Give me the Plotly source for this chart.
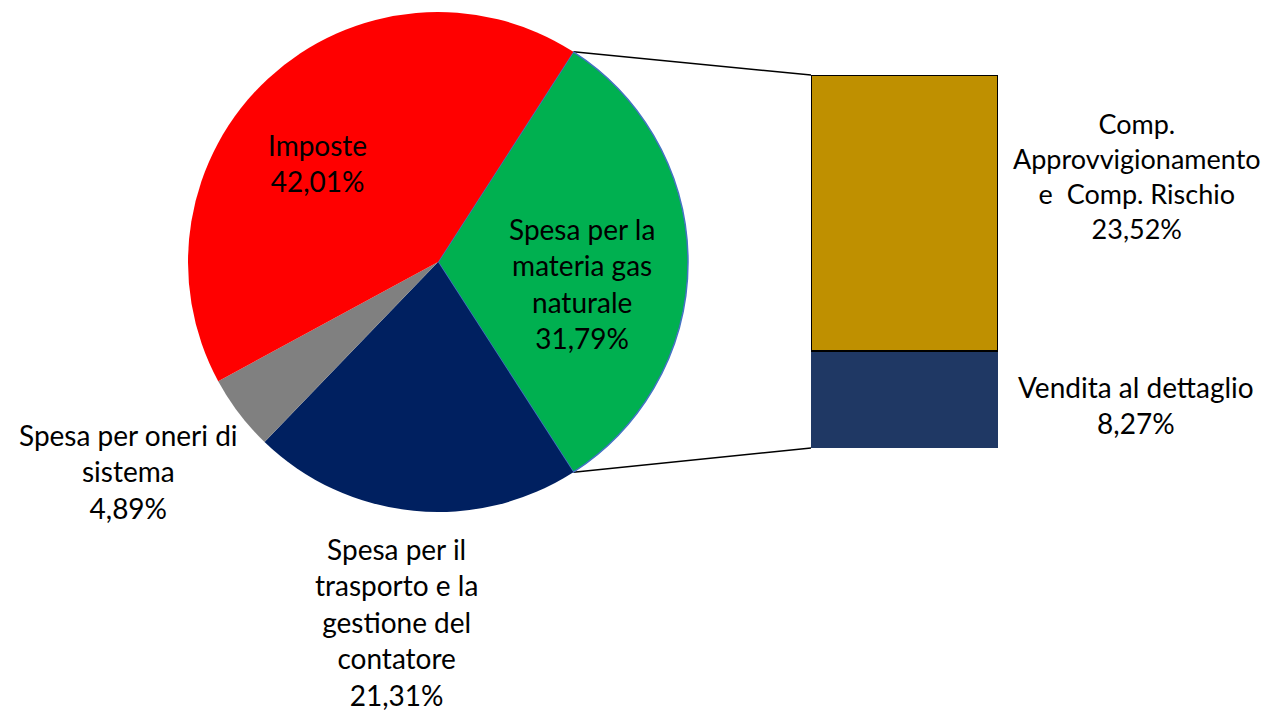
import math
import plotly.graph_objects as go

# ---- data ----
pie_labels = ["Spesa per la materia gas naturale",
              "Spesa per il trasporto e la gestione del contatore",
              "Spesa per oneri di sistema",
              "Imposte"]
pie_values = [31.79, 21.31, 4.89, 42.01]
pie_colors = ["#00B050", "#002060", "#808080", "#FF0000"]

bar_labels = ["Vendita al dettaglio", "Comp. Approvvigionamento e Comp. Rischio"]
bar_values = [8.27, 23.52]
bar_colors = ["#1F3864", "#BF9000"]

W, H = 1269, 714
FONT = "Lato"
FS = 28
def pct(v):
    return f"{v:.2f}".replace(".", ",") + "%"

# layout geometry (pixels)
cx, cy, R = 438, 262, 250
bar_l, bar_r, bar_top, bar_bot = 811, 998, 75, 448

def px2paper(x, y):
    return x / W, 1 - y / H

half = pie_values[0] / sum(pie_values) * 360 / 2  # half angle of the exploded slice
rotation = 90 - half

fig = go.Figure()
fig.add_trace(go.Pie(
    labels=pie_labels, values=pie_values, sort=False, direction="clockwise",
    rotation=rotation, textinfo="none", hoverinfo="label+percent",
    marker=dict(colors=pie_colors,
                line=dict(color=["#4472C4", "rgba(0,0,0,0)", "rgba(0,0,0,0)", "rgba(0,0,0,0)"],
                          width=[1.5, 0, 0, 0])),
    domain=dict(x=[(cx - R) / W, (cx + R) / W], y=[1 - (cy + R) / H, 1 - (cy - R) / H]),
    showlegend=False,
))

for lab, v, c, lw in zip(bar_labels, bar_values, bar_colors, [0, 1.5]):
    fig.add_trace(go.Bar(
        x=[0], y=[v], width=[1], name=lab, showlegend=False,
        marker=dict(color=c, line=dict(color="black", width=lw)),
        xaxis="x", yaxis="y",
    ))

fig.update_layout(
    width=W, height=H, barmode="stack",
    margin=dict(l=0, r=0, t=0, b=0),
    paper_bgcolor="white", plot_bgcolor="white",
    xaxis=dict(domain=[bar_l / W, bar_r / W], range=[-0.5, 0.5], visible=False),
    yaxis=dict(domain=[1 - bar_bot / H, 1 - bar_top / H], range=[0, sum(bar_values)], visible=False),
    font=dict(family=FONT, size=FS, color="black"),
)

# connector lines from the pie edge of the exploded slice to the bar corners
for sign, by in [(1, bar_top), (-1, bar_bot)]:
    a = math.radians(half) * sign
    x0, y0 = cx + R * math.cos(a), cy - R * math.sin(a)
    p0 = px2paper(x0, y0)
    p1 = px2paper(bar_l, by)
    fig.add_shape(type="line", xref="paper", yref="paper",
                  x0=p0[0], y0=p0[1], x1=p1[0], y1=p1[1],
                  line=dict(color="black", width=1.5), layer="below")

def ann(x, y, text, size=FS):
    px, py = px2paper(x, y)
    fig.add_annotation(x=px, y=py, xref="paper", yref="paper", text=text,
                       showarrow=False, xanchor="center", yanchor="middle",
                       align="center", font=dict(family=FONT, size=size, color="black"))

ann(318, 163, "Imposte<br>" + pct(pie_values[3]))
ann(582, 284, "Spesa per la<br>materia gas<br>naturale<br>" + pct(pie_values[0]))
ann(128, 471, "Spesa per oneri di<br>sistema<br>" + pct(pie_values[2]))
ann(396, 622, "Spesa per il<br>trasporto e la<br>gestione del<br>contatore<br>" + pct(pie_values[1]))
ann(1137, 176, "Comp.<br>Approvvigionamento<br>e  Comp. Rischio<br>" + pct(bar_values[1]), size=27)
ann(1136, 405, "Vendita al dettaglio<br>" + pct(bar_values[0]))

fig.write_html("out.html", config={"displayModeBar": False},
               post_script="document.body.style.margin='0';document.body.style.overflow='hidden';")
